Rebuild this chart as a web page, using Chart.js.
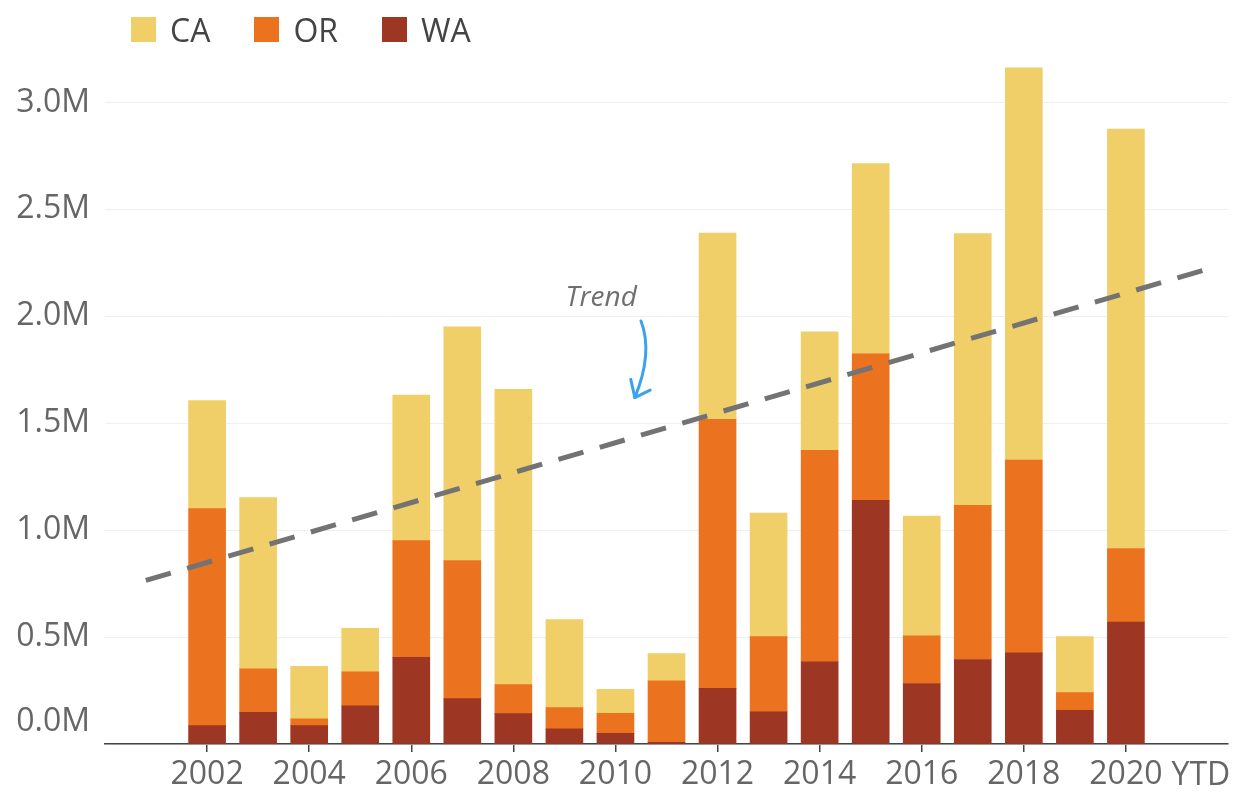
<!DOCTYPE html>
<html>
<head>
<meta charset="utf-8">
<script src="https://cdn.jsdelivr.net/npm/chart.js@4.4.1/dist/chart.umd.min.js"></script>
<style>
  html, body { margin: 0; padding: 0; background: #fff; }
  #wrap { position: relative; width: 1240px; height: 798px; }
  #legend {
    position: absolute; left: 131px; top: 8px;
    display: flex; gap: 44px;
    font-family: 'Open Sans', sans-serif; font-size: 32px; color: #444;
  }
  #legend .item { display: flex; align-items: center; }
  #legend .box { width: 25px; height: 25px; margin-right: 14px; }
</style>
</head>
<body>
<div id="wrap">
  <canvas id="chart" width="1240" height="798"></canvas>
  <div id="legend"></div>
</div>
<script>
// values in millions
const years = [2002, 2003, 2004, 2005, 2006, 2007, 2008, 2009, 2010, 2011,
               2012, 2013, 2014, 2015, 2016, 2017, 2018, 2019, 2020];
const waValues = [0.086, 0.148, 0.086, 0.179, 0.405, 0.212, 0.142, 0.071, 0.050, 0.008,
                  0.260, 0.151, 0.384, 1.139, 0.283, 0.395, 0.426, 0.158, 0.570];
const orValues = [1.015, 0.204, 0.032, 0.158, 0.546, 0.646, 0.136, 0.099, 0.094, 0.287,
                  1.258, 0.351, 0.989, 0.686, 0.223, 0.721, 0.902, 0.082, 0.344];
const caValues = [0.505, 0.800, 0.245, 0.204, 0.681, 1.093, 1.380, 0.412, 0.112, 0.128,
                  0.871, 0.578, 0.554, 0.889, 0.560, 1.271, 1.834, 0.262, 1.962];
const trendYears = [2000.8, 2021.8];
const trendValues = [0.765, 2.235];
const xTickYears = [2002, 2004, 2006, 2008, 2010, 2012, 2014, 2016, 2018, 2020];

const colors = { CA: '#f0ce68', OR: '#eb721f', WA: '#9e3624' };
const FONT = "'Open Sans', sans-serif";
const TICK_COLOR = '#666';

// html legend
const legend = document.getElementById('legend');
['CA', 'OR', 'WA'].forEach(name => {
    const item = document.createElement('div');
    item.className = 'item';
    item.innerHTML = '<span class="box" style="background:' + colors[name] + '"></span><span>' + name + '</span>';
    legend.appendChild(item);
});

const toPoints = (xs, ys) => xs.map((x, i) => ({ x: x, y: ys[i] }));

// extra texts: shifted zero label, "YTD", trend note and arrow
const extras = {
    id: 'extras',
    afterDraw(chart) {
        const ctx = chart.ctx;
        const xs = chart.scales.x, ys = chart.scales.y;
        ctx.save();
        ctx.font = '32px ' + FONT;
        ctx.fillStyle = TICK_COLOR;
        ctx.textAlign = 'right';
        ctx.textBaseline = 'middle';
        ctx.fillText('0.0M', ys.right - 15, ys.getPixelForValue(0) - 22);

        // YTD after last tick label
        const lastX = xs.getPixelForValue(2020);
        const w = ctx.measureText('2020').width;
        ctx.textAlign = 'left';
        ctx.textBaseline = 'top';
        ctx.fillText('YTD', lastX + w / 2 + 9, xs.top + 8 + 8);

        // trend note
        ctx.font = 'italic 28px ' + FONT;
        ctx.fillStyle = '#6f6f6f';
        ctx.textAlign = 'center';
        ctx.textBaseline = 'middle';
        ctx.fillText('Trend', xs.getPixelForValue(2009.72), ys.getPixelForValue(2.086));

        const px = (yr, v) => [xs.getPixelForValue(yr), ys.getPixelForValue(v)];
        const a = px(2010.50, 1.978), c = px(2010.74, 1.83), b = px(2010.38, 1.62);
        const l = px(2010.30, 1.705), r = px(2010.68, 1.655);
        ctx.strokeStyle = '#3ba3ee';
        ctx.lineWidth = 3;
        ctx.lineCap = 'round';
        ctx.lineJoin = 'round';
        ctx.beginPath();
        ctx.moveTo(a[0], a[1]);
        ctx.quadraticCurveTo(c[0], c[1], b[0], b[1]);
        ctx.stroke();
        ctx.beginPath();
        ctx.moveTo(l[0], l[1]);
        ctx.lineTo(b[0], b[1]);
        ctx.lineTo(r[0], r[1]);
        ctx.stroke();
        ctx.restore();
    }
};

const barDs = (label, values) => ({
    type: 'bar',
    label: label,
    data: toPoints(years, values),
    backgroundColor: colors[label],
    barThickness: 37,
    stack: 'states',
    order: 1
});

new Chart(document.getElementById('chart'), {
    data: {
        datasets: [
            barDs('WA', waValues),
            barDs('OR', orValues),
            barDs('CA', caValues),
            {
                type: 'line',
                label: 'Trend',
                data: toPoints(trendYears, trendValues),
                borderColor: '#737373',
                borderWidth: 5,
                borderDash: [26, 17],
                borderCapStyle: 'butt',
                pointRadius: 0,
                fill: false,
                stack: 'trend',
                order: 0
            }
        ]
    },
    options: {
        responsive: false,
        animation: false,
        layout: { padding: { top: 49, right: 12, left: 0, bottom: 0 } },
        plugins: { legend: { display: false }, tooltip: { enabled: false } },
        scales: {
            x: {
                type: 'linear',
                min: 2000,
                max: 2022,
                stacked: true,
                offset: false,
                afterBuildTicks: s => { s.ticks = xTickYears.map(v => ({ value: v })); },
                afterFit: s => { s.height = 54; },
                grid: {
                    offset: false,
                    drawOnChartArea: false,
                    drawTicks: true,
                    tickLength: 8,
                    color: '#444',
                    lineWidth: 1.5
                },
                border: { display: true, color: '#444', width: 1.5 },
                ticks: {
                    font: { family: FONT, size: 32 },
                    color: TICK_COLOR,
                    padding: 4,
                    maxRotation: 0,
                    autoSkip: false,
                    callback: v => String(v)
                }
            },
            y: {
                stacked: true,
                min: 0,
                max: 3.25,
                afterFit: s => { s.width = 105; },
                grid: { color: '#efefef', lineWidth: 1, drawTicks: false },
                border: { display: false },
                ticks: {
                    stepSize: 0.5,
                    includeBounds: false,
                    font: { family: FONT, size: 32 },
                    color: TICK_COLOR,
                    padding: 15,
                    callback: v => v === 0 ? '' : v.toFixed(1) + 'M'
                }
            }
        }
    },
    plugins: [extras]
});
</script>
</body>
</html>
